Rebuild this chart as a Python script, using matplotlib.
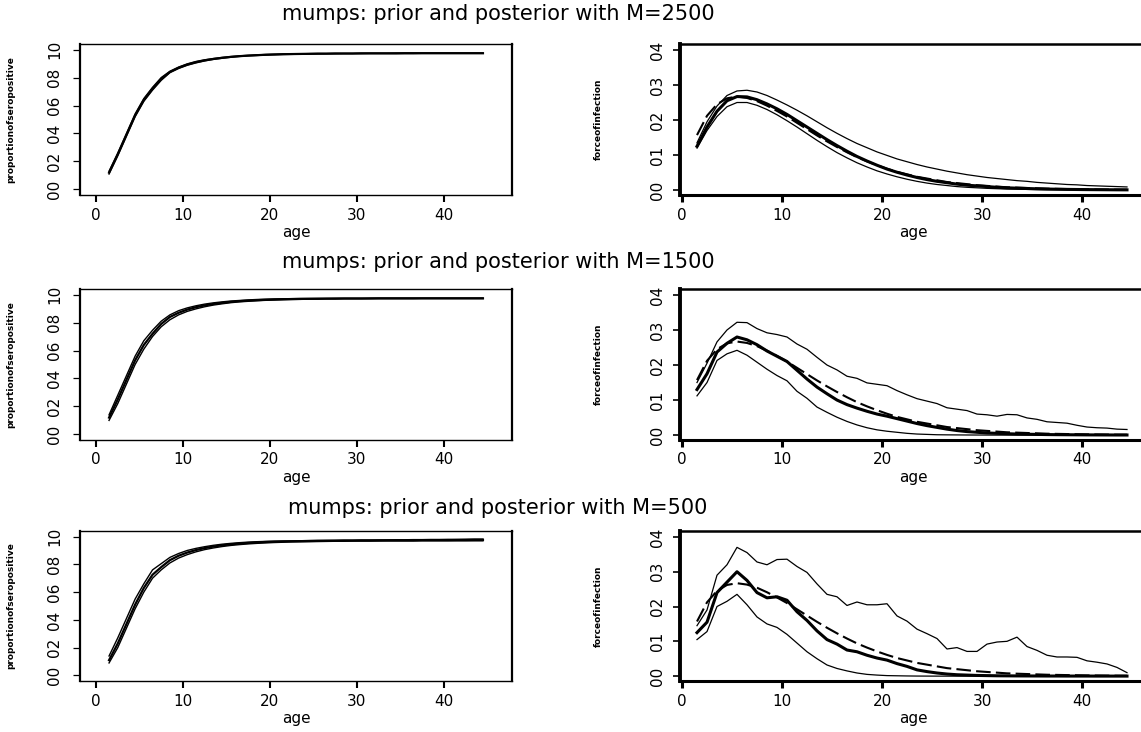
import numpy as np
import matplotlib
matplotlib.use("Agg")
import matplotlib.pyplot as plt

plt.rcParams['font.family'] = ['DejaVu Sans']

# ages at which the model is evaluated (mid-points of 1-year bands)
ages = np.arange(1.5, 45.0, 1.0)

# prior mean of the force of infection (same in every row)
foi_prior = [0.157, 0.212, 0.245, 0.262, 0.267, 0.263, 0.254, 0.241, 0.226, 0.21,
             0.192, 0.174, 0.156, 0.139, 0.123, 0.108, 0.094, 0.082, 0.071, 0.061,
             0.052, 0.045, 0.038, 0.033, 0.028, 0.023, 0.02, 0.017, 0.014, 0.012,
             0.01, 0.008, 0.007, 0.006, 0.005, 0.004, 0.0035, 0.003, 0.0025, 0.002,
             0.0017, 0.0014, 0.0012, 0.001]

# M = 2500
sero_lo_2500 = [0.11, 0.24, 0.38, 0.52, 0.63, 0.71, 0.78, 0.835, 0.865, 0.888,
                0.905, 0.919, 0.93, 0.938, 0.945, 0.951, 0.955, 0.958, 0.961, 0.963,
                0.965, 0.966, 0.967, 0.968, 0.969, 0.97, 0.97, 0.971, 0.971, 0.971,
                0.972, 0.972, 0.972, 0.972, 0.972, 0.972, 0.973, 0.973, 0.973, 0.973,
                0.973, 0.973, 0.973, 0.973]
sero_mid_2500 = [0.12, 0.25, 0.39, 0.53, 0.64, 0.72, 0.79, 0.84, 0.87, 0.893,
                 0.91, 0.923, 0.933, 0.941, 0.948, 0.953, 0.957, 0.96, 0.963, 0.965,
                 0.967, 0.968, 0.969, 0.97, 0.971, 0.971, 0.972, 0.972, 0.972, 0.973,
                 0.973, 0.973, 0.973, 0.973, 0.974, 0.974, 0.974, 0.974, 0.974, 0.974,
                 0.974, 0.974, 0.974, 0.974]
sero_hi_2500 = [0.13, 0.26, 0.40, 0.54, 0.65, 0.73, 0.80, 0.845, 0.875, 0.898,
                0.915, 0.927, 0.936, 0.944, 0.95, 0.955, 0.959, 0.962, 0.965, 0.967,
                0.968, 0.969, 0.97, 0.971, 0.972, 0.972, 0.973, 0.973, 0.973, 0.974,
                0.974, 0.974, 0.974, 0.975, 0.975, 0.975, 0.975, 0.975, 0.975, 0.975,
                0.975, 0.975, 0.975, 0.975]
foi_lo_2500 = [0.12, 0.17, 0.21, 0.238, 0.25, 0.25, 0.242, 0.23, 0.215, 0.198,
               0.18, 0.161, 0.142, 0.124, 0.107, 0.092, 0.078, 0.066, 0.055, 0.046,
               0.038, 0.031, 0.025, 0.02, 0.016, 0.013, 0.01, 0.008, 0.0065, 0.005,
               0.004, 0.003, 0.0025, 0.002, 0.0015, 0.0012, 0.001, 0.0008, 0.0006, 0.0005,
               0.0004, 0.0003, 0.0002, 0.0002]
foi_mid_2500 = [0.125, 0.18, 0.225, 0.255, 0.267, 0.266, 0.258, 0.246, 0.232, 0.216,
                0.198, 0.18, 0.162, 0.144, 0.127, 0.111, 0.096, 0.083, 0.071, 0.06,
                0.051, 0.043, 0.036, 0.03, 0.025, 0.021, 0.017, 0.014, 0.012, 0.01,
                0.008, 0.0065, 0.0055, 0.0045, 0.0037, 0.003, 0.0025, 0.002, 0.0017, 0.0014,
                0.0012, 0.001, 0.0008, 0.0007]
foi_hi_2500 = [0.135, 0.195, 0.24, 0.27, 0.283, 0.285, 0.28, 0.27, 0.257, 0.243,
               0.228, 0.212, 0.195, 0.178, 0.162, 0.147, 0.133, 0.121, 0.109, 0.099,
               0.089, 0.081, 0.073, 0.066, 0.06, 0.054, 0.049, 0.044, 0.04, 0.036,
               0.033, 0.03, 0.027, 0.025, 0.022, 0.02, 0.018, 0.016, 0.015, 0.013,
               0.012, 0.011, 0.01, 0.009]

# M = 1500
sero_lo_1500 = [0.10, 0.22, 0.36, 0.50, 0.61, 0.70, 0.77, 0.82, 0.855, 0.88,
                0.898, 0.913, 0.925, 0.934, 0.942, 0.948, 0.952, 0.956, 0.959, 0.961,
                0.963, 0.965, 0.966, 0.967, 0.968, 0.969, 0.969, 0.97, 0.97, 0.97,
                0.971, 0.971, 0.971, 0.971, 0.971, 0.971, 0.972, 0.972, 0.972, 0.972,
                0.972, 0.972, 0.972, 0.972]
sero_mid_1500 = [0.12, 0.25, 0.39, 0.53, 0.64, 0.72, 0.79, 0.84, 0.87, 0.893,
                 0.91, 0.923, 0.933, 0.941, 0.948, 0.953, 0.957, 0.96, 0.963, 0.965,
                 0.967, 0.968, 0.969, 0.97, 0.97, 0.971, 0.971, 0.972, 0.972, 0.972,
                 0.972, 0.973, 0.973, 0.973, 0.973, 0.973, 0.973, 0.973, 0.973, 0.973,
                 0.973, 0.973, 0.973, 0.973]
sero_hi_1500 = [0.14, 0.28, 0.42, 0.56, 0.67, 0.745, 0.81, 0.855, 0.885, 0.905,
                0.92, 0.932, 0.941, 0.948, 0.954, 0.958, 0.962, 0.965, 0.967, 0.969,
                0.97, 0.971, 0.972, 0.972, 0.973, 0.973, 0.974, 0.974, 0.974, 0.974,
                0.975, 0.975, 0.975, 0.975, 0.975, 0.975, 0.975, 0.975, 0.975, 0.975,
                0.975, 0.975, 0.975, 0.975]
foi_lo_1500 = [0.112, 0.15, 0.213, 0.232, 0.242, 0.228, 0.208, 0.188, 0.17, 0.155,
               0.125, 0.105, 0.08, 0.065, 0.051, 0.039, 0.029, 0.021, 0.015, 0.011,
               0.008, 0.005, 0.003, 0.002, 0.001, 0.0007, 0.0005, 0.0003, 0.0002, 0.0001,
               0.0, 0.0, 0.0, 0.0, 0.0, 0.0, 0.0, 0.0, 0.0, 0.0,
               0.0, 0.0, 0.0, 0.0]
foi_mid_1500 = [0.13, 0.175, 0.237, 0.262, 0.28, 0.272, 0.258, 0.24, 0.225, 0.21,
                0.185, 0.16, 0.137, 0.118, 0.1, 0.087, 0.077, 0.068, 0.06, 0.054,
                0.047, 0.04, 0.033, 0.027, 0.022, 0.017, 0.013, 0.01, 0.008, 0.006,
                0.005, 0.004, 0.003, 0.0025, 0.002, 0.0015, 0.0012, 0.001, 0.0008, 0.0006,
                0.0005, 0.0004, 0.0003, 0.0003]
foi_hi_1500 = [0.15, 0.205, 0.266, 0.30, 0.322, 0.321, 0.304, 0.292, 0.287, 0.28,
               0.26, 0.245, 0.222, 0.20, 0.186, 0.168, 0.162, 0.149, 0.145, 0.141,
               0.127, 0.115, 0.104, 0.097, 0.09, 0.078, 0.074, 0.07, 0.06, 0.058,
               0.054, 0.059, 0.058, 0.049, 0.045, 0.038, 0.036, 0.034, 0.028, 0.023,
               0.021, 0.02, 0.017, 0.016]

# M = 500
sero_lo_500 = [0.09, 0.20, 0.34, 0.48, 0.60, 0.70, 0.76, 0.81, 0.845, 0.87,
               0.89, 0.906, 0.918, 0.928, 0.936, 0.942, 0.947, 0.951, 0.954, 0.957,
               0.959, 0.961, 0.962, 0.963, 0.964, 0.965, 0.966, 0.966, 0.967, 0.967,
               0.967, 0.968, 0.968, 0.968, 0.968, 0.968, 0.969, 0.969, 0.969, 0.969,
               0.969, 0.969, 0.969, 0.969]
sero_mid_500 = [0.11, 0.23, 0.37, 0.51, 0.63, 0.725, 0.78, 0.83, 0.862, 0.885,
                0.903, 0.917, 0.928, 0.937, 0.944, 0.95, 0.954, 0.958, 0.961, 0.963,
                0.965, 0.966, 0.967, 0.968, 0.969, 0.97, 0.97, 0.971, 0.971, 0.972,
                0.972, 0.972, 0.973, 0.973, 0.973, 0.973, 0.974, 0.974, 0.974, 0.974,
                0.975, 0.975, 0.976, 0.976]
sero_hi_500 = [0.14, 0.27, 0.41, 0.55, 0.66, 0.76, 0.805, 0.85, 0.878, 0.90,
               0.915, 0.927, 0.937, 0.945, 0.951, 0.956, 0.96, 0.963, 0.965, 0.967,
               0.968, 0.969, 0.97, 0.971, 0.972, 0.972, 0.973, 0.974, 0.974, 0.975,
               0.975, 0.976, 0.976, 0.977, 0.977, 0.978, 0.978, 0.979, 0.979, 0.98,
               0.98, 0.981, 0.982, 0.982]
foi_lo_500 = [0.105, 0.128, 0.20, 0.215, 0.235, 0.205, 0.17, 0.15, 0.14, 0.12,
              0.095, 0.07, 0.05, 0.032, 0.022, 0.015, 0.009, 0.005, 0.003, 0.0015,
              0.001, 0.0005, 0.0002, 0.0001, 0.0, 0.0, 0.0, 0.0, 0.0, 0.0,
              0.0, 0.0, 0.0, 0.0, 0.0, 0.0, 0.0, 0.0, 0.0, 0.0,
              0.0, 0.0, 0.0, 0.0]
foi_mid_500 = [0.125, 0.155, 0.24, 0.27, 0.30, 0.275, 0.24, 0.225, 0.228, 0.218,
               0.185, 0.16, 0.13, 0.105, 0.092, 0.075, 0.07, 0.06, 0.052, 0.046,
               0.036, 0.028, 0.018, 0.013, 0.009, 0.006, 0.004, 0.003, 0.002, 0.0015,
               0.001, 0.0008, 0.0006, 0.0005, 0.0004, 0.0003, 0.0003, 0.0002, 0.0002, 0.0002,
               0.0001, 0.0001, 0.0001, 0.0001]
foi_hi_500 = [0.145, 0.19, 0.29, 0.32, 0.37, 0.355, 0.328, 0.32, 0.335, 0.336,
              0.315, 0.298, 0.265, 0.235, 0.228, 0.203, 0.213, 0.205, 0.205, 0.208,
              0.173, 0.158, 0.135, 0.122, 0.108, 0.078, 0.082, 0.071, 0.071, 0.092,
              0.098, 0.10, 0.112, 0.085, 0.074, 0.06, 0.055, 0.055, 0.054, 0.044,
              0.04, 0.035, 0.025, 0.01]

m_values = [2500, 1500, 500]
sero_rows = [(sero_lo_2500, sero_mid_2500, sero_hi_2500),
             (sero_lo_1500, sero_mid_1500, sero_hi_1500),
             (sero_lo_500, sero_mid_500, sero_hi_500)]
foi_rows = [(foi_lo_2500, foi_mid_2500, foi_hi_2500),
            (foi_lo_1500, foi_mid_1500, foi_hi_1500),
            (foi_lo_500, foi_mid_500, foi_hi_500)]

W, H = 1141, 732
fig = plt.figure(figsize=(W / 100, H / 100), dpi=100)

def box(x0, x1, y0, y1):
    return [x0 / W, 1 - y1 / H, (x1 - x0) / W, (y1 - y0) / H]

tops = [44, 289, 531]
bots = [195, 440, 681]
title_y = [14, 262, 508]
tick_font = 11

for r in range(3):
    # left: proportion seropositive
    ax = fig.add_axes(box(80, 512, tops[r], bots[r]))
    lo, mid, hi = sero_rows[r]
    ax.plot(ages, lo, color='black', lw=1.0)
    ax.plot(ages, hi, color='black', lw=1.0)
    ax.plot(ages, mid, color='black', lw=1.6)
    ax.set_xlim(-1.84, 47.84)
    ax.set_ylim(-0.04, 1.04)
    ax.set_xticks([0, 10, 20, 30, 40])
    ax.set_yticks([0.0, 0.2, 0.4, 0.6, 0.8, 1.0])
    ax.set_yticklabels(['00', '02', '04', '06', '08', '10'])
    for side in ['left', 'right']:
        ax.spines[side].set_linewidth(1.6)
    for side in ['top', 'bottom']:
        ax.spines[side].set_linewidth(1.0)
    ax.tick_params(axis='x', direction='out', length=5, width=1.5, labelsize=tick_font, pad=4)
    ax.tick_params(axis='y', direction='out', length=5, width=0.9, labelsize=tick_font,
                   labelrotation=90, pad=8)
    for t in ax.get_yticklabels():
        t.set_va('center')
    ax.set_xlabel('age', fontsize=tick_font, labelpad=2)
    ax.set_ylabel('proportionofseropositive', fontsize=6.5, fontweight='bold', va='center')
    ax.yaxis.set_label_coords(-0.16, 0.5)

    # right: force of infection
    ax2 = fig.add_axes(box(680, 1146, tops[r], bots[r]))
    lo, mid, hi = foi_rows[r]
    ax2.plot(ages, foi_prior, color='black', lw=1.5, dashes=(7, 2.5))
    ax2.plot(ages, lo, color='black', lw=0.9)
    ax2.plot(ages, hi, color='black', lw=0.9)
    ax2.plot(ages, mid, color='black', lw=2.2)
    ax2.set_xlim(-0.2, 46.4)
    ax2.set_ylim(-0.014, 0.417)
    ax2.set_xticks([0, 10, 20, 30, 40])
    ax2.set_yticks([0.0, 0.1, 0.2, 0.3, 0.4])
    ax2.set_yticklabels(['00', '01', '02', '03', '04'])
    ax2.spines['left'].set_linewidth(2.8)
    ax2.spines['bottom'].set_linewidth(2.2)
    ax2.spines['top'].set_linewidth(1.8)
    ax2.spines['right'].set_linewidth(1.8)
    ax2.tick_params(axis='x', direction='out', length=5, width=2.2, labelsize=tick_font, pad=4)
    ax2.tick_params(axis='y', direction='out', length=5, width=1.2, labelsize=tick_font,
                    labelrotation=90, pad=6)
    for t in ax2.get_yticklabels():
        t.set_va('center')
    ax2.set_xlabel('age', fontsize=tick_font, labelpad=2)
    ax2.set_ylabel('forceofinfection', fontsize=6.5, fontweight='bold', va='center')
    ax2.yaxis.set_label_coords(-0.175, 0.5)

    fig.text(498 / W, 1 - title_y[r] / H, f'mumps: prior and posterior with M={m_values[r]}',
             ha='center', va='center', fontsize=15)

fig.savefig('out.png', dpi=100)
